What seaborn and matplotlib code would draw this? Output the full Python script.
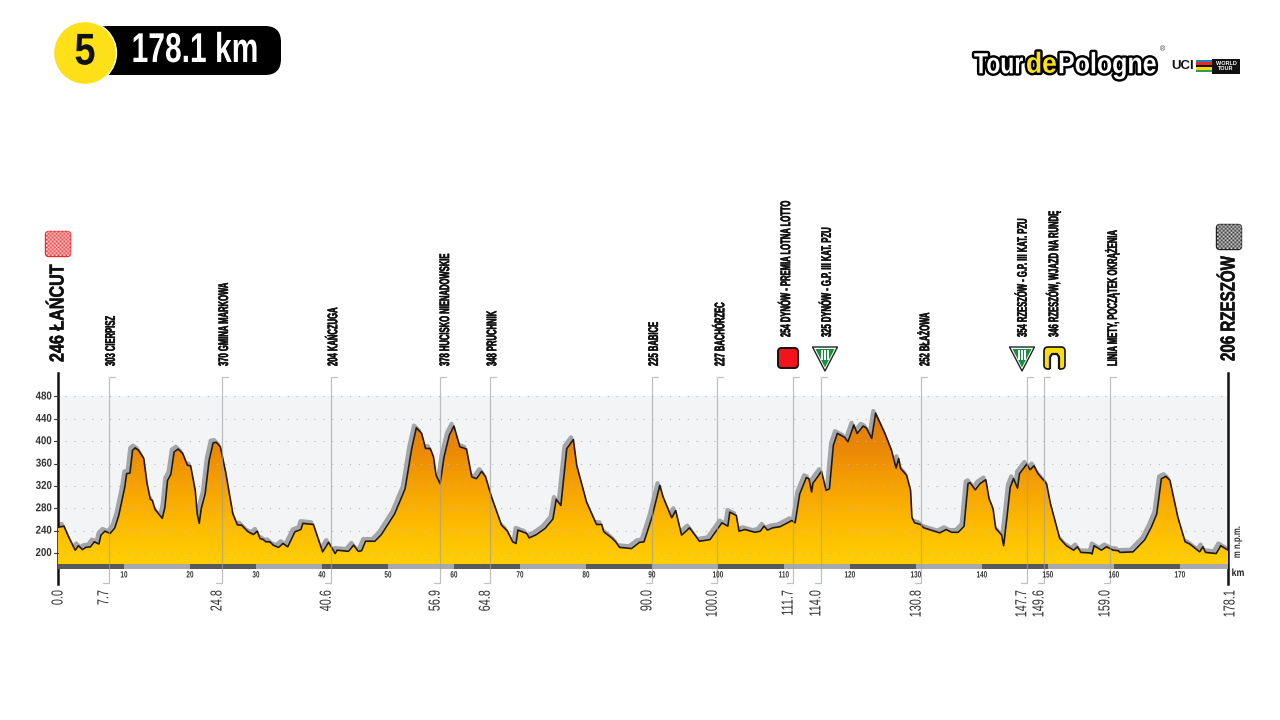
import matplotlib
matplotlib.use("Agg")
import matplotlib.pyplot as plt
import matplotlib.patheffects as pe
from matplotlib.colors import LinearSegmentedColormap
from matplotlib.patches import Circle, FancyBboxPatch, Polygon, Rectangle
from matplotlib.transforms import Affine2D
import numpy as np
import pandas as pd
import seaborn as sns

# profile (km, m)
km = [0, 0.9, 1.6, 2.6, 3.1, 3.7, 4.2, 4.9, 5.5, 6.2, 6.5, 7.1, 7.9, 8.6, 9.2, 10.1, 10.4, 10.9, 11.3, 11.7,
      12.2, 13.0, 13.5, 14, 14.3, 14.7, 15.8, 16.2, 16.6, 17.1, 17.6, 18.2, 18.9, 19.6, 20.1, 20.8, 21.1, 21.4, 21.7, 22.3,
      22.9, 23.5, 24, 24.6, 25.4, 26.5, 27.2, 27.8, 28.8, 29.6, 30.2, 30.6, 31.1, 31.5, 32.1, 32.6, 33.4, 34.1, 34.8, 35.9,
      36.8, 37.1, 38.7, 40.1, 41, 42, 42.3, 44, 44.8, 45.5, 46, 46.6, 48, 49, 51, 52.6, 53.6, 54.3, 55.1, 55.7,
      56.4, 56.9, 57.3, 57.9, 58.5, 59.3, 60, 60.9, 61.9, 62.7, 63.4, 64.2, 64.8, 65.7, 67.2, 68.1, 68.9, 69.4, 69.7, 71,
      71.4, 72.5, 73.8, 75, 75.5, 76.2, 77.1, 78.1, 78.6, 80.1, 81.6, 82.4, 82.7, 83.9, 84.5, 85.1, 86.9, 88.1, 88.8, 90,
      91.2, 91.7, 93, 93.6, 94.5, 95.7, 97.2, 98.8, 100.6, 101.5, 101.8, 102.8, 103.2, 104.1, 105.6, 106.4, 107, 107.5, 108.3, 109.4,
      111.2, 111.7, 112.4, 113.4, 113.8, 114.2, 114.4, 115.7, 116.4, 116.9, 117.5, 118.1, 119.2, 119.7, 120.6, 121.1, 122, 122.5, 123.3, 123.9,
      125.3, 126.3, 127, 127.4, 127.7, 128.6, 129.2, 129.4, 129.8, 130.7, 131.2, 133.6, 134.6, 135.4, 136.4, 137.3, 137.9, 138.2, 139, 139.7,
      140.6, 141.1, 141.7, 142.1, 143, 143.3, 143.8, 144.3, 144.8, 145.4, 145.7, 146.8, 147.3, 147.9, 148.5, 149.8, 150.4, 151.8, 152.8, 153.9,
      154.5, 155, 156.5, 156.7, 157, 158.1, 158.9, 159.9, 160.7, 160.9, 162.9, 164.7, 165.7, 166.5, 167.2, 167.9, 168.5, 169.7, 170.8, 171.5,
      173, 173.5, 173.9, 175.5, 176.2, 177.3]
elev = [246, 248, 229, 205, 213, 206, 210, 211, 220, 216, 232, 239, 235, 245, 267, 317, 342, 343, 384, 388,
        384, 369, 324, 296, 294, 278, 262, 282, 330, 341, 381, 386, 378, 357, 356, 312, 270, 253, 279, 306,
        366, 397, 398, 390, 345, 270, 250, 250, 238, 233, 239, 226, 224, 220, 220, 214, 210, 217, 211, 238,
        242, 253, 251, 202, 219, 199, 205, 203, 214, 203, 204, 221, 221, 233, 270, 315, 387, 424, 414, 387,
        387, 372, 339, 324, 372, 411, 427, 390, 386, 336, 333, 346, 336, 300, 250, 239, 220, 217, 241, 235,
        227, 233, 244, 261, 296, 285, 387, 403, 357, 291, 251, 251, 238, 227, 220, 210, 208, 219, 220, 264,
        321, 300, 263, 276, 232, 245, 221, 224, 254, 248, 273, 267, 239, 242, 237, 239, 248, 241, 245, 247,
        258, 254, 306, 335, 333, 309, 325, 346, 312, 315, 393, 414, 407, 399, 429, 414, 427, 424, 405, 450,
        414, 384, 352, 369, 351, 339, 312, 264, 254, 251, 245, 236, 242, 237, 237, 248, 324, 326, 313, 324,
        331, 297, 279, 244, 232, 213, 264, 318, 333, 316, 342, 359, 349, 356, 342, 324, 288, 226, 213, 205,
        211, 201, 200, 198, 213, 205, 211, 205, 204, 201, 202, 224, 247, 270, 333, 337, 330, 264, 220, 216,
        202, 211, 201, 199, 213, 205]

y_ticks = [200, 240, 280, 320, 360, 400, 440, 480]
km_ticks = list(range(10, 180, 10))

# where the marker lines stand on the drawn scale (the printed km is not quite on it)
marker_pos = [7.7, 24.85, 41.4, 57.9, 65.5, 90.0, 99.9, 111.4, 115.6, 130.8, 146.8, 149.4, 159.4]
marker_names = ["303 CIERPISZ", "370 GMINA MARKOWA", "204 KAŃCZUGA", "378 HUCISKO NIENADOWSKIE", "348 PRUCHNIK",
                "225 BABICE", "227 BACHÓRZEC", "254 DYNÓW - PREMIA LOTNA LOTTO", "325 DYNÓW - G.P. III KAT. PZU",
                "252 BŁAŻOWA", "354 RZESZÓW - G.P. III KAT. PZU", "346 RZESZÓW, WJAZD NA RUNDĘ",
                "LINIA METY, POCZĄTEK OKRĄŻENIA"]
marker_km_labels = ["7.7", "24.8", "40.6", "56.9", "64.8", "90.0", "100.0", "111.7", "114.0", "130.8", "147.7", "149.6", "159.0"]

# small sideways shifts so the names sit like in the original
name_nudge = [2, 2, 2, 5, 2, 2, 3, -7, 6, 4, -4, 9, 2]
name_base = [366, 366, 366, 366, 366, 366, 366, 337, 337, 366, 337, 337, 366]

sns.set_theme(style="white")
plt.rcParams["font.family"] = ["Liberation Sans"]


class Squeeze(pe.AbstractPathEffect):
    """Condensed look: no narrow font is installed, so scale the glyphs around an anchor (in 1280x720 px)."""

    def __init__(self, x, y, sx=1.0, sy=1.0, stroke=None):
        super().__init__()
        self.t = Affine2D().translate(-x, -(720 - y)).scale(sx, sy).translate(x, 720 - y)
        self.stroke = stroke

    def draw_path(self, renderer, gc, tpath, affine, rgbFace=None):
        full = affine + self.t
        if self.stroke is not None:
            self.stroke.draw_path(renderer, gc, tpath, full, rgbFace)
        renderer.draw_path(gc, tpath, full, rgbFace)


fig = plt.figure(figsize=(12.8, 7.2), dpi=100, facecolor="white")

# main axes: left spine at 58 px, right at 1228 px, 373..584 px vertically
ax = fig.add_axes([58 / 1280, 1 - 584 / 720, (1228 - 58) / 1280, (584 - 373) / 720])
ov = fig.add_axes([0, 0, 1, 1], zorder=5)
ov.set_xlim(0, 1280)
ov.set_ylim(720, 0)
ov.axis("off")
ov.patch.set_alpha(0)


def label(x, y, s, size, sx=1.0, sy=1.0, stroke=None, **kw):
    return ov.text(x, y, s, fontsize=size, path_effects=[Squeeze(x, y, sx, sy, stroke)], **kw)


df = pd.DataFrame({"km": km, "elev": elev})
shadow = df.assign(km=df.km - 0.35, elev=df.elev + 4)
x_end = 177.3

ax.axhspan(180, 480, color="#f3f4f5", zorder=0, lw=0)

# gradient under the profile
cmap = LinearSegmentedColormap.from_list("profile", ["#ffcf00", "#fdbb00", "#f6a200", "#ea8708", "#da7a10"])
grad = np.linspace(0, 1, 256).reshape(-1, 1)
sns.lineplot(data=shadow, x="km", y="elev", color="#a3a5a8", lw=3, ax=ax, zorder=2)
im = ax.imshow(grad, extent=[0, x_end, 180, 460], origin="lower", aspect="auto", cmap=cmap, zorder=3)
poly = Polygon(np.column_stack([km + [x_end, 0], elev + [180, 180]]), closed=True, transform=ax.transData)
im.set_clip_path(poly)

for t in y_ticks:
    ax.plot([1, x_end - 0.4], [t, t], color="#b4b6b8", lw=0.8, ls=(0, (1, 7)), zorder=4)

sns.lineplot(data=df, x="km", y="elev", color="#1f1a17", lw=1.2, ax=ax, zorder=5)

# km strip
for i in range(18):
    left = i * 10
    ax.barh(175.5, min(10, x_end - left), left=left, height=9, lw=0,
            color="#59595b" if i % 2 == 0 else "#a7a9ac", zorder=6)

ax.set_xlim(0, x_end)
ax.set_ylim(144.5, 522)
ax.set_xlabel("")
ax.set_ylabel("")
ax.set_xticks([])
ax.set_yticks([])
ax.patch.set_alpha(0)
for side in ["top", "bottom"]:
    ax.spines[side].set_visible(False)
for side in ["left", "right"]:
    ax.spines[side].set_color("#111111")
    ax.spines[side].set_linewidth(1.8)

fig.canvas.draw()


def px(k):
    return ax.transData.transform((k, 0))[0]


def py(v):
    return 720 - ax.transData.transform((0, v))[1]


# y scale, drawn with the squeezed labels
for t in y_ticks:
    ov.plot([54, 58], [py(t), py(t)], color="#333333", lw=0.8)
    label(52, py(t), str(t), 8.2, sx=0.85, ha="right", va="center", color="#333333", fontweight="bold")

# km numbers on the strip
for k in km_ticks:
    label(px(k), 575, str(k), 6.6, sx=0.7, ha="center", va="center", color="#333333", fontweight="bold")

# a hair of stroke, the squeezed bold comes out thinner than the original
thick = pe.Stroke(linewidth=0.35, foreground="#111111")

# markers: thin line with hooks, name on top, km below
for k, name, kl, nudge, base in zip(marker_pos, marker_names, marker_km_labels, name_nudge, name_base):
    x = px(k)
    ov.plot([x + 6, x, x, x - 6], [376.5, 376.5, 582.5, 582.5], color="#9d9fa2", lw=0.9, alpha=0.65, zorder=1,
            solid_joinstyle="miter")
    label(x + nudge, base, name, 10, sy=0.55, stroke=thick, rotation=90, ha="center", va="bottom", fontweight="bold", color="#111111")
    label(x - 5, 590, kl, 11.5, sy=0.68, rotation=90, ha="center", va="top", color="#333333")

label(px(0), 590, "0.0", 11.5, sy=0.68, rotation=90, ha="center", va="top", color="#333333")
label(px(x_end) + 2, 590, "178.1", 11.5, sy=0.68, rotation=90, ha="center", va="top", color="#333333")

# start and finish
label(58, 362, "246 ŁAŃCUT", 14.5, sy=0.8, stroke=thick, rotation=90, ha="center", va="bottom", fontweight="bold", color="#111111")
label(1229, 361, "206 RZESZÓW", 14.5, sy=0.75, stroke=thick, rotation=90, ha="center", va="bottom", fontweight="bold", color="#111111")


def flag(cx, cy, dark, light):
    box = FancyBboxPatch((cx - 12.5, cy - 12.5), 25, 25, boxstyle="round,pad=0,rounding_size=3",
                         fc=dark, ec=dark, lw=1, zorder=2)
    ov.add_patch(box)
    n = 13
    cells = np.indices((n, n)).sum(axis=0) % 2
    img = ov.imshow(cells, extent=[cx - 12.5, cx + 12.5, cy + 12.5, cy - 12.5], zorder=3, interpolation="bilinear",
                    cmap=LinearSegmentedColormap.from_list("f", [dark, light]), aspect="auto")
    img.set_clip_path(box)


flag(58, 244, "#ea2a2e", "#ffe3e3")
flag(1229, 237, "#222222", "#e6e6e6")

# category icons
ov.add_patch(FancyBboxPatch((778, 348), 20, 20, boxstyle="round,pad=0,rounding_size=3.5", fc="#f5131b", ec="#111111", lw=1.4))


def gpm_icon(cx):
    ov.add_patch(Polygon([[cx - 12.5, 347], [cx + 12.5, 347], [cx, 371]], closed=True, fc="white", ec="#222222", lw=1,
                         joinstyle="round"))
    ov.add_patch(Polygon([[cx - 9.5, 349], [cx + 9.5, 349], [cx, 367.5]], closed=True, fc="#12923f", ec="none"))
    label(cx, 356, "III", 10, sx=0.8, ha="center", va="center", color="white", fontweight="bold")


gpm_icon(825)
gpm_icon(1022)

ov.add_patch(FancyBboxPatch((1044, 347), 21, 22, boxstyle="round,pad=0,rounding_size=4", fc="#f9dc12", ec="#111111", lw=1.2))
ov.add_patch(Rectangle((1050, 355), 9, 15, fc="white", ec="none"))
ov.plot([1050, 1050, 1052, 1057, 1059, 1059], [369, 357, 354, 354, 357, 369], color="#111111", lw=1.6, solid_capstyle="butt")

label(1237, 542, "m n.p.m.", 7.5, sy=0.75, rotation=90, ha="center", va="center", color="#333333", fontweight="bold")
label(1238, 573, "km", 7.5, sx=0.85, ha="center", va="center", color="#222222", fontweight="bold")

# stage badge
ov.add_patch(FancyBboxPatch((92, 26), 189, 49, boxstyle="round,pad=0,rounding_size=16", fc="black", ec="none"))
ov.add_patch(Circle((85, 53), 31.5, fc="#fde017", ec="white", lw=1))
label(85, 53, "5", 32, sx=0.85, ha="center", va="center", fontweight="bold", color="#111111")
label(195, 51, "178.1 km", 30, sx=0.72, ha="center", va="center", fontweight="bold", color="white")

# logo
stroke = pe.Stroke(linewidth=3.5, foreground="black")
label(974, 65, "Tour", 16.5, sy=1.27, stroke=stroke, ha="left", va="center", fontweight="bold", color="white")
label(1026, 65, "de", 19, sy=1.1, stroke=stroke, ha="left", va="center", fontweight="bold", color="#fde017")
label(1058, 65, "Pologne", 18, sy=1.16, stroke=stroke, ha="left", va="center", fontweight="bold", color="white")
ov.text(1162, 50, "®", ha="center", va="center", fontsize=5, color="#333333")
ov.text(1171, 66, "UCI", ha="left", va="center", fontsize=9.5, fontweight="bold", color="#111111")
for yy, col in zip([60, 62.4, 64.8, 67.2, 69.6], ["#2a7fc1", "#e02b2b", "#111111", "#f5d90a", "#2e9e4f"]):
    ov.add_patch(Rectangle((1196, yy), 17, 2.4, fc=col, ec="none"))
ov.add_patch(Rectangle((1212, 59), 28, 14.5, fc="#111111", ec="none"))
ov.text(1226, 66, "WORLD\nTOUR", ha="center", va="center", fontsize=4, color="white", fontweight="bold", linespacing=0.9)

ov.set_xlim(0, 1280)
ov.set_ylim(720, 0)
fig.savefig("out.png", dpi=100)
plt.close(fig)
